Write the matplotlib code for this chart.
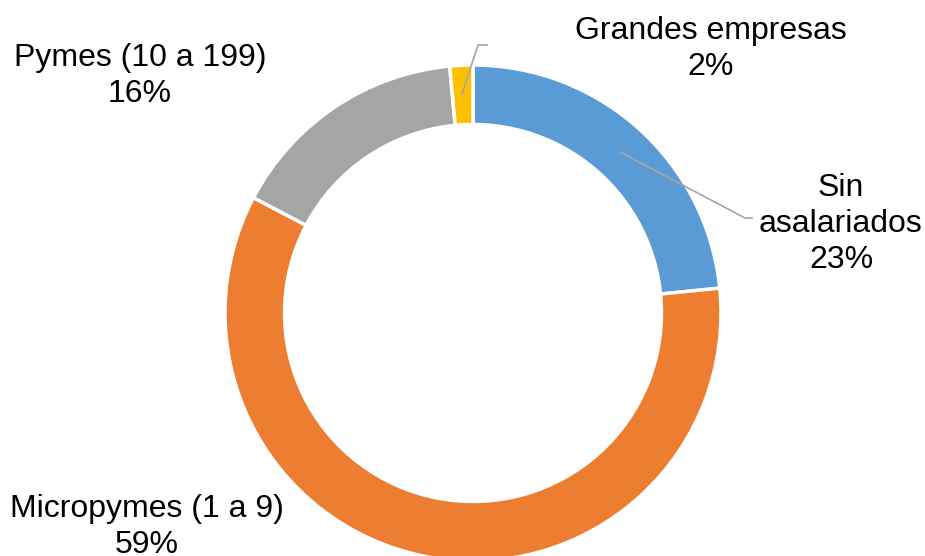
import matplotlib.pyplot as plt

categories = ["Sin asalariados", "Micropymes (1 a 9)", "Pymes (10 a 199)", "Grandes empresas"]
shares = [23.4, 59.3, 15.8, 1.5]
pct_labels = ["23%", "59%", "16%", "2%"]
colors = ["#5B9BD5", "#ED7D31", "#A5A5A5", "#FFC000"]

plt.rcParams["font.family"] = ["Liberation Sans", "DejaVu Sans"]

W, H = 925, 556
fig = plt.figure(figsize=(W / 100, H / 100), dpi=100)
ax = fig.add_axes([0, 0, 1, 1])

cx, cy, r = 473, H - 313, 248
ax.pie(shares, colors=colors, startangle=90, counterclock=False,
       center=(cx, cy), radius=r, frame=True,
       wedgeprops=dict(width=r * 0.24, edgecolor="white", linewidth=2.5))
ax.set_xlim(0, W)
ax.set_ylim(0, H)
ax.set_aspect("equal")
ax.axis("off")

fs = 23
# label positions in pixels from the top-left corner
label_pos = [(841, 224), (147, 527), (140, 76), (711, 49)]
label_names = ["Sin\nasalariados", "Micropymes (1 a 9)", "Pymes (10 a 199)", "Grandes empresas"]
for (x, y), name, pct in zip(label_pos, label_names, pct_labels):
    ax.text(x, H - y, name + "\n" + pct, ha="center", va="center",
            fontsize=fs, linespacing=1.28, color="black")

# leader lines
ax.plot([620, 745, 752], [H - 152, H - 218, H - 218], color="#A5A5A5", lw=1.2)
ax.plot([462, 478, 487], [H - 94, H - 45, H - 45], color="#A5A5A5", lw=1.2)

fig.savefig("out.png", dpi=100)
